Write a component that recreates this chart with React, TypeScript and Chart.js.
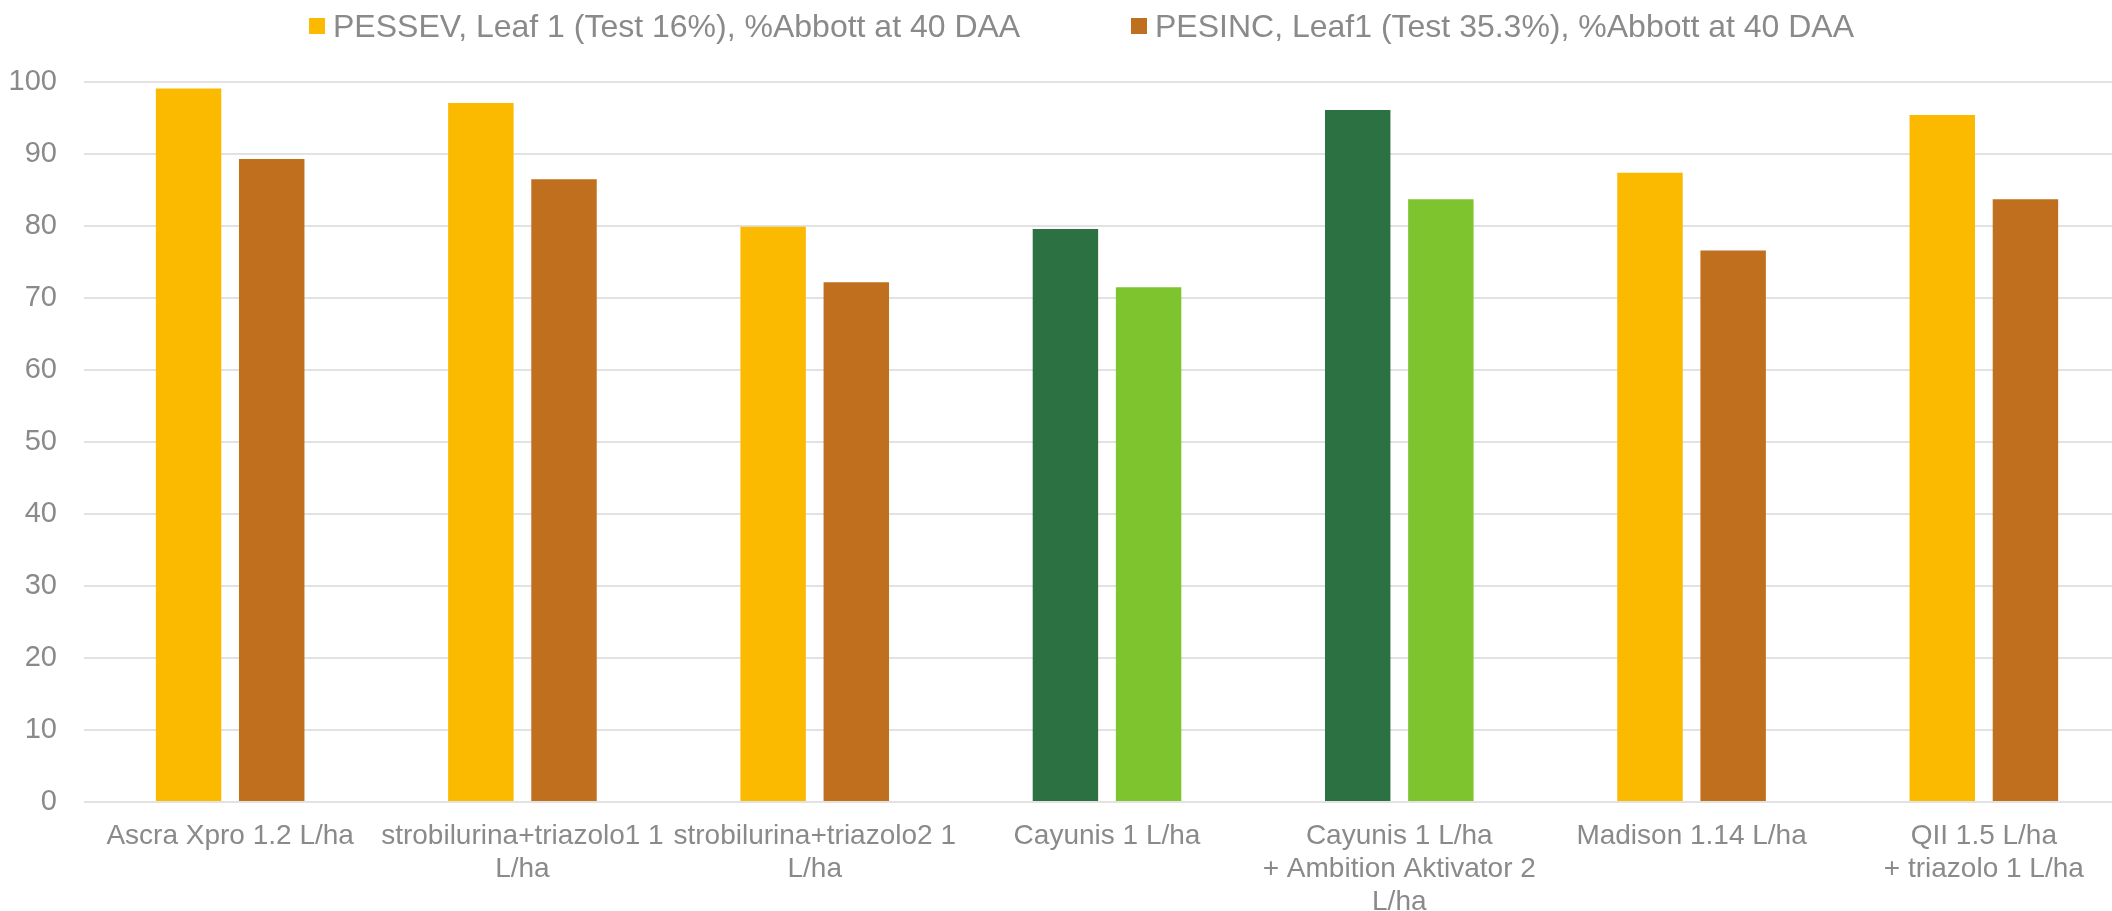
import React, { useEffect, useRef } from "react";
import { Chart, registerables } from "chart.js";

Chart.register(...registerables);

const categories: (string | string[])[] = [
  "Ascra Xpro 1.2 L/ha",
  ["strobilurina+triazolo1 1", "L/ha"],
  ["strobilurina+triazolo2 1", "L/ha"],
  "Cayunis 1 L/ha",
  ["Cayunis 1 L/ha", "+ Ambition Aktivator 2", "L/ha"],
  "Madison 1.14 L/ha",
  ["QII 1.5 L/ha", "+ triazolo 1 L/ha"],
];

const seriesNames = [
  "PESSEV, Leaf 1 (Test 16%), %Abbott at 40 DAA",
  "PESINC, Leaf1 (Test 35.3%), %Abbott at 40 DAA",
];

const pessevValues = [99.1, 97.1, 79.9, 79.6, 96.1, 87.4, 95.4];
const pesincValues = [89.3, 86.5, 72.2, 71.5, 83.7, 76.6, 83.7];

// which treatments are highlighted in green
const highlighted = [false, false, false, true, true, false, false];

const yTicks = [0, 10, 20, 30, 40, 50, 60, 70, 80, 90, 100];

const YELLOW = "#FBB900";
const BROWN = "#BF6F1E";
const DARK_GREEN = "#2C7142";
const LIGHT_GREEN = "#7DC42F";
const TEXT = "#8A8A8A";
const GRID = "#E2E2E2";
const FONT = "'Liberation Sans', Arial, sans-serif";

export default function App() {
  const canvasRef = useRef<HTMLCanvasElement | null>(null);

  useEffect(() => {
    if (!canvasRef.current) return;
    const chart = new Chart(canvasRef.current, {
      type: "bar",
      data: {
        labels: categories,
        datasets: [
          {
            label: seriesNames[0],
            data: pessevValues,
            backgroundColor: highlighted.map((h) => (h ? DARK_GREEN : YELLOW)),
            borderWidth: 0,
            categoryPercentage: 0.569,
            barPercentage: 0.787,
          },
          {
            label: seriesNames[1],
            data: pesincValues,
            backgroundColor: highlighted.map((h) => (h ? LIGHT_GREEN : BROWN)),
            borderWidth: 0,
            categoryPercentage: 0.569,
            barPercentage: 0.787,
          },
        ],
      },
      options: {
        animation: false,
        responsive: false,
        devicePixelRatio: 1,
        layout: { padding: { top: 82, left: 0, right: 30, bottom: 0 } },
        plugins: {
          legend: { display: false },
          tooltip: { enabled: false },
        },
        scales: {
          x: {
            border: { display: false },
            grid: { display: false, drawTicks: false },
            ticks: {
              color: TEXT,
              font: { family: FONT, size: 28, lineHeight: 1.17 },
              padding: 18,
              maxRotation: 0,
              autoSkip: false,
            },
            afterFit: (scale: any) => {
              scale.height = 109;
            },
          },
          y: {
            min: 0,
            max: 100,
            border: { display: false },
            grid: { color: GRID, lineWidth: 2, drawTicks: false },
            afterBuildTicks: (scale: any) => {
              scale.ticks = yTicks.map((v) => ({ value: v }));
            },
            ticks: {
              color: TEXT,
              font: { family: FONT, size: 29 },
              padding: 27,
            },
            afterFit: (scale: any) => {
              scale.width = 84;
            },
          },
        },
      },
    });
    return () => chart.destroy();
  }, []);

  const legendItems = [
    { text: seriesNames[0], color: YELLOW, left: 309 },
    { text: seriesNames[1], color: BROWN, left: 1131 },
  ];

  return (
    <div
      style={{
        position: "fixed",
        left: 0,
        top: 0,
        width: 2112,
        height: 911,
        overflow: "hidden",
        background: "#ffffff",
      }}
    >
      <canvas
        ref={canvasRef}
        width={2160}
        height={911}
        style={{ position: "absolute", left: 0, top: 0, width: 2160, height: 911 }}
      />
      {legendItems.map((item) => (
        <div
          key={item.text}
          style={{
            position: "absolute",
            left: item.left,
            top: 10,
            display: "flex",
            alignItems: "center",
            whiteSpace: "nowrap",
            fontFamily: FONT,
            fontSize: 32,
            lineHeight: "32px",
            color: TEXT,
          }}
        >
          <span
            style={{
              display: "inline-block",
              width: 16,
              height: 16,
              background: item.color,
              marginRight: 8,
            }}
          />
          <span>{item.text}</span>
        </div>
      ))}
    </div>
  );
}
